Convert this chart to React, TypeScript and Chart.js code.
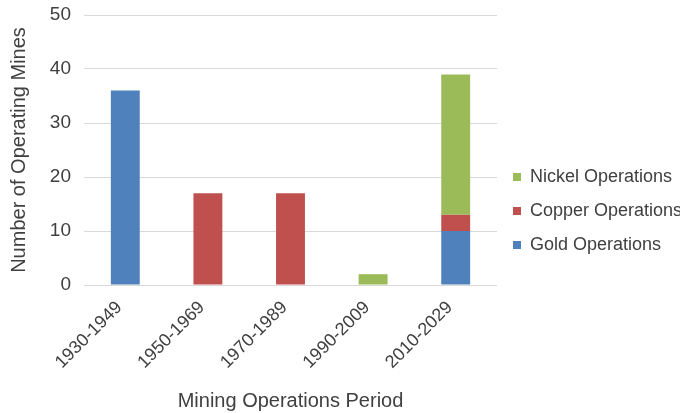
import React, { useEffect, useRef } from "react";
import { Chart, registerables } from "chart.js";

Chart.register(...registerables);

const periods = ["1930-1949", "1950-1969", "1970-1989", "1990-2009", "2010-2029"];
const goldMines = [36, 0, 0, 0, 10];
const copperMines = [0, 17, 17, 0, 3];
const nickelMines = [0, 0, 0, 2, 26];
const yTicks = [0, 10, 20, 30, 40, 50];

const FONT = "'Liberation Sans', Arial, sans-serif";
const TEXT = "#404040";

export default function App() {
  const canvasRef = useRef<HTMLCanvasElement | null>(null);

  useEffect(() => {
    const canvas = canvasRef.current;
    if (!canvas) return;
    const chart = new Chart(canvas, {
      type: "bar",
      data: {
        labels: periods,
        datasets: [
          { label: "Gold Operations", data: goldMines, backgroundColor: "#4F81BD", borderWidth: 0 },
          { label: "Copper Operations", data: copperMines, backgroundColor: "#C0504D", borderWidth: 0 },
          { label: "Nickel Operations", data: nickelMines, backgroundColor: "#9BBB59", borderWidth: 0 },
        ],
      },
      options: {
        responsive: false,
        animation: false,
        layout: { padding: { top: 15, left: 0, right: 0, bottom: 0 } },
        datasets: { bar: { categoryPercentage: 1, barPercentage: 0.35 } },
        plugins: {
          tooltip: { enabled: false },
          legend: {
            position: "right",
            align: "start",
            reverse: true,
            maxWidth: 183,
            title: { display: true, text: "", font: { size: 10 }, padding: { top: 125, bottom: 0 } },
            labels: {
              boxWidth: 8,
              boxHeight: 8,
              padding: 16,
              color: TEXT,
              font: { family: FONT, size: 18 },
            },
          },
        },
        scales: {
          x: {
            stacked: true,
            grid: { display: false },
            border: { display: false },
            ticks: {
              color: TEXT,
              font: { family: FONT, size: 18 },
              maxRotation: 45,
              minRotation: 45,
              padding: 4,
              labelOffset: -6,
            },
            title: {
              display: true,
              text: "Mining Operations Period",
              color: TEXT,
              font: { family: FONT, size: 20 },
              padding: { top: 0, bottom: 0 },
            },
            afterFit: (scale: any) => {
              scale.height = 128;
            },
          },
          y: {
            stacked: true,
            min: 0,
            max: 50,
            afterBuildTicks: (scale: any) => {
              scale.ticks = yTicks.map((v) => ({ value: v }));
            },
            grid: { color: "#d9d9d9", lineWidth: 1, drawTicks: false },
            border: { display: false },
            ticks: {
              color: TEXT,
              font: { family: FONT, size: 19 },
              padding: 13,
            },
            title: {
              display: true,
              text: "Number of Operating Mines",
              color: TEXT,
              font: { family: FONT, size: 20 },
              padding: { top: 7, bottom: 0 },
            },
            afterFit: (scale: any) => {
              scale.width = 84;
              scale.paddingTop = 0;
              scale.paddingBottom = 0;
            },
          },
        },
      },
    });
    return () => chart.destroy();
  }, []);

  return (
    <div style={{ position: "absolute", left: 0, top: 0, width: 680, height: 413, background: "#fff" }}>
      <canvas ref={canvasRef} width={680} height={413} />
    </div>
  );
}
